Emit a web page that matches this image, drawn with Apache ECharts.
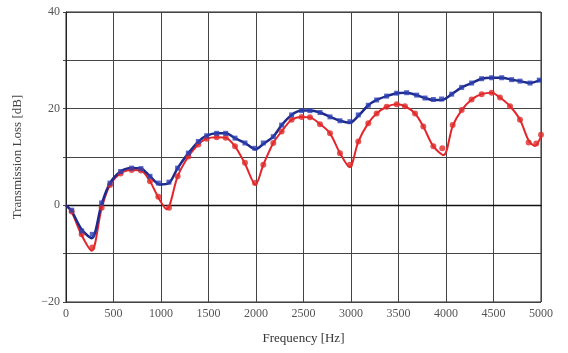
<!DOCTYPE html>
<html>
<head>
<meta charset="utf-8">
<script src="https://cdn.jsdelivr.net/npm/echarts@6/dist/echarts.min.js"></script>
<style>
  html, body { margin: 0; padding: 0; background: #fff; }
  #chart { width: 568px; height: 353px; }
</style>
</head>
<body>
<div id="chart"></div>
<script>
// measured points (markers)
const blueMarkers = [
  [60, -1], [165, -5.3], [277, -6], [375, 0.5], [463, 4.6], [575, 7], [691, 7.7], [789, 7.6],
  [884, 6], [972, 4.6], [1084, 4.8], [1175, 7.7], [1288, 10.8], [1393, 13.2], [1481, 14.4],
  [1586, 14.9], [1681, 14.9], [1779, 13.9], [1884, 12.9], [1989, 11.8], [2077, 12.9],
  [2182, 14.2], [2270, 16.6], [2375, 18.7], [2481, 19.6], [2568, 19.6], [2674, 19.2],
  [2779, 18.3], [2884, 17.5], [2989, 17.3], [3077, 18.7], [3182, 20.7], [3270, 21.8],
  [3375, 22.6], [3481, 23.2], [3586, 23.3], [3691, 22.8], [3779, 22.2], [3867, 21.9],
  [3954, 22], [4060, 23], [4165, 24.4], [4270, 25.3], [4375, 26.2], [4481, 26.4],
  [4586, 26.4], [4691, 26], [4779, 25.7], [4884, 25.3], [4982, 25.9]
];
const redMarkers = [
  [60, -1.3], [165, -6], [277, -8.7], [375, -0.5], [463, 4.2], [575, 6.6], [691, 7.3],
  [789, 7.2], [884, 5], [972, 1.8], [1084, -0.5], [1175, 6], [1288, 10.1], [1393, 12.6],
  [1481, 13.8], [1586, 14.1], [1681, 14], [1779, 12.2], [1884, 8.8], [1989, 4.6],
  [2077, 8.4], [2182, 12.9], [2270, 15.3], [2375, 17.7], [2481, 18.3], [2568, 18.2],
  [2674, 16.8], [2779, 14.9], [2884, 10.8], [2989, 8.4], [3077, 13.2], [3182, 17],
  [3270, 19], [3375, 20.4], [3481, 20.9], [3568, 20.5], [3674, 19], [3761, 16.3],
  [3867, 12.2], [3961, 11.8], [4070, 16.6], [4165, 19.7], [4270, 21.9], [4375, 23],
  [4481, 23.3], [4568, 22.3], [4674, 20.5], [4779, 17.7], [4870, 13], [4950, 12.8], [5000, 14.6]
];
// calculated curves
const blueCurve = [
  [0, 0], [60, -1.2], [165, -5], [270, -6.8], [375, 0.3], [463, 4.6], [575, 7], [691, 7.7],
  [789, 7.6], [884, 6], [990, 4.3], [1084, 4.6], [1175, 7.7], [1288, 10.8], [1393, 13.2],
  [1481, 14.4], [1586, 14.9], [1681, 14.9], [1779, 13.9], [1884, 12.9], [1995, 11.6],
  [2077, 12.7], [2182, 14.2], [2270, 16.6], [2375, 18.7], [2481, 19.6], [2568, 19.6],
  [2674, 19.2], [2779, 18.3], [2884, 17.5], [2989, 17.1], [3077, 18.5], [3182, 20.7],
  [3270, 21.8], [3375, 22.6], [3481, 23.2], [3586, 23.3], [3691, 22.8], [3779, 22.2],
  [3867, 21.8], [3954, 21.8], [4060, 23], [4165, 24.4], [4270, 25.3], [4375, 26.2],
  [4481, 26.4], [4586, 26.4], [4691, 26], [4779, 25.7], [4884, 25.3], [5000, 26]
];
const redCurve = [
  [0, 0], [60, -1.4], [165, -6.2], [270, -9.4], [375, -0.6], [463, 4.2], [575, 6.6],
  [691, 7.3], [789, 7.2], [884, 5], [972, 1.6], [1060, -0.8], [1175, 6], [1288, 10.1],
  [1393, 12.6], [1481, 13.8], [1586, 14.1], [1681, 14], [1779, 12.2], [1884, 8.6],
  [1995, 4.3], [2077, 8.4], [2182, 12.9], [2270, 15.3], [2375, 17.7], [2481, 18.3],
  [2568, 18.2], [2674, 16.8], [2779, 14.9], [2884, 10.8], [2985, 7.9], [3077, 13.2],
  [3182, 17], [3270, 19], [3375, 20.4], [3481, 20.9], [3568, 20.5], [3674, 19],
  [3761, 16.3], [3867, 12.2], [3975, 10.4], [4070, 16.4], [4165, 19.7], [4270, 21.9],
  [4375, 23], [4481, 23.3], [4568, 22.3], [4674, 20.5], [4779, 17.7], [4870, 13.4],
  [4935, 12.3], [5000, 14.2]
];

const serif = '"Liberation Serif", "DejaVu Serif", serif';
const myChart = echarts.init(document.getElementById('chart'));
myChart.setOption({
  animation: false,
  grid: {
    left: 66, right: 27, top: 12, bottom: 51,
    show: true, borderColor: '#222', borderWidth: 1
  },
  xAxis: {
    type: 'value',
    min: 0, max: 5000, interval: 500,
    name: 'Frequency [Hz]',
    nameLocation: 'middle',
    nameGap: 30,
    nameTextStyle: { fontFamily: serif, fontSize: 13, color: '#333' },
    axisLine: { show: true, onZero: true, lineStyle: { color: '#111', width: 1.3 } },
    axisTick: { show: false },
    axisLabel: {
      fontFamily: serif, fontSize: 12, color: '#555', margin: 6,
      formatter: val => String(val)
    },
    splitLine: { show: true, lineStyle: { color: '#444', width: 1 } }
  },
  yAxis: {
    type: 'value',
    min: -20, max: 40, interval: 10,
    name: 'Transmission Loss [dB]',
    nameLocation: 'middle',
    nameGap: 42,
    nameTextStyle: { fontFamily: serif, fontSize: 13, color: '#444' },
    axisLine: { show: true, lineStyle: { color: '#222' } },
    axisTick: { show: true, length: 3, lineStyle: { color: '#444' } },
    axisLabel: {
      fontFamily: serif, fontSize: 12, color: '#555', margin: 6,
      formatter(val) {
        return val % 20 === 0 ? (val < 0 ? '\u2212' + (-val) : String(val)) : '';
      }
    },
    splitLine: { show: true, lineStyle: { color: '#444', width: 1 } }
  },
  series: [
    {
      name: 'redCurve', type: 'line', data: redCurve, smooth: 0.3, showSymbol: false,
      lineStyle: { color: '#e4262c', width: 2 }, z: 2
    },
    {
      name: 'blueCurve', type: 'line', data: blueCurve, smooth: 0.3, showSymbol: false,
      lineStyle: { color: '#1e2a8c', width: 2.5 }, z: 3
    },
    {
      name: 'redPts', type: 'scatter', data: redMarkers, symbol: 'circle', symbolSize: 6,
      itemStyle: { color: '#e02a2a' }, z: 4
    },
    {
      name: 'bluePts', type: 'scatter', data: blueMarkers, symbol: 'rect', symbolSize: 5,
      itemStyle: { color: '#2a3fb0' }, z: 5
    }
  ]
});
</script>
</body>
</html>
